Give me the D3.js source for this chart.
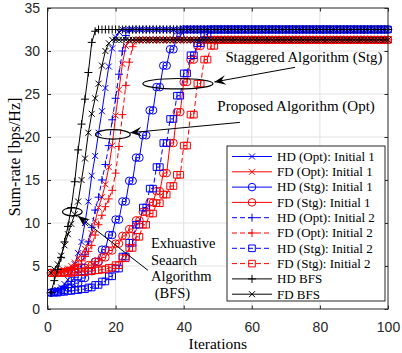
<!DOCTYPE html>
<html lang="en">
<head>
<meta charset="utf-8">
<title>Sum-rate vs iterations</title>
<script src="https://cdn.jsdelivr.net/npm/d3@7"></script>
<style>
  body { margin: 0; background: #fff; }
  svg text { font-family: "Liberation Serif", "Times New Roman", serif; fill: #000; }
  .tick text { font-family: "Liberation Sans", Arial, sans-serif; font-size: 14px; fill: #262626; }
  .tick line { stroke: #262626; }
</style>
</head>
<body>
<script>
// ---- data ----
var xTicks = [0, 20, 40, 60, 80, 100];
var yTicks = [0, 5, 10, 15, 20, 25, 30, 35];

var seriesNames = [
  "HD (Opt): Initial 1", "FD (Opt): Initial 1",
  "HD (Stg): Initial 1", "FD (Stg): Initial 1",
  "HD (Opt): Initial 2", "FD (Opt): Initial 2",
  "HD (Stg): Initial 2", "FD (Stg): Initial 2",
  "HD BFS", "FD BFS"
];

// sum-rate per iteration, iterations 1..100
var hdOpt1 = [
  1.9, 2.0, 2.2, 2.5, 2.9, 3.4, 4.2, 5.2, 6.5, 7.8,
  10.0, 12.5, 15.5, 17.8, 20.5, 23.0, 25.7, 28.2, 30.3, 31.6,
  32.2, 32.5, 32.5, 32.5, 32.5, 32.5, 32.5, 32.5, 32.5, 32.5,
  32.5, 32.5, 32.5, 32.5, 32.5, 32.5, 32.5, 32.5, 32.5, 32.5,
  32.5, 32.5, 32.5, 32.5, 32.5, 32.5, 32.5, 32.5, 32.5, 32.5,
  32.5, 32.5, 32.5, 32.5, 32.5, 32.5, 32.5, 32.5, 32.5, 32.5,
  32.5, 32.5, 32.5, 32.5, 32.5, 32.5, 32.5, 32.5, 32.5, 32.5,
  32.5, 32.5, 32.5, 32.5, 32.5, 32.5, 32.5, 32.5, 32.5, 32.5,
  32.5, 32.5, 32.5, 32.5, 32.5, 32.5, 32.5, 32.5, 32.5, 32.5,
  32.5, 32.5, 32.5, 32.5, 32.5, 32.5, 32.5, 32.5, 32.5, 32.5
];
var fdOpt1 = [
  4.2, 4.2, 4.3, 4.4, 4.5, 4.7, 5.0, 5.4, 5.9, 6.4,
  7.0, 7.7, 8.8, 10.2, 11.8, 13.0, 14.5, 16.5, 19.0, 22.5,
  25.5, 28.5, 30.6, 31.2, 31.3, 31.3, 31.3, 31.3, 31.3, 31.3,
  31.3, 31.3, 31.3, 31.3, 31.3, 31.3, 31.3, 31.3, 31.3, 31.3,
  31.3, 31.3, 31.3, 31.3, 31.3, 31.3, 31.3, 31.3, 31.3, 31.3,
  31.3, 31.3, 31.3, 31.3, 31.3, 31.3, 31.3, 31.3, 31.3, 31.3,
  31.3, 31.3, 31.3, 31.3, 31.3, 31.3, 31.3, 31.3, 31.3, 31.3,
  31.3, 31.3, 31.3, 31.3, 31.3, 31.3, 31.3, 31.3, 31.3, 31.3,
  31.3, 31.3, 31.3, 31.3, 31.3, 31.3, 31.3, 31.3, 31.3, 31.3,
  31.3, 31.3, 31.3, 31.3, 31.3, 31.3, 31.3, 31.3, 31.3, 31.3
];
var hdStg1 = [
  1.9, 2.0, 2.0, 2.2, 2.2, 2.5, 2.5, 3.0, 3.0, 3.6,
  3.6, 4.4, 4.4, 5.5, 5.5, 6.9, 6.9, 8.6, 8.6, 10.4,
  10.4, 12.5, 12.5, 14.9, 14.9, 17.6, 17.6, 20.2, 20.2, 23.1,
  23.1, 25.8, 25.8, 28.3, 28.3, 30.2, 30.2, 31.7, 31.7, 32.5,
  32.5, 32.5, 32.5, 32.5, 32.5, 32.5, 32.5, 32.5, 32.5, 32.5,
  32.5, 32.5, 32.5, 32.5, 32.5, 32.5, 32.5, 32.5, 32.5, 32.5,
  32.5, 32.5, 32.5, 32.5, 32.5, 32.5, 32.5, 32.5, 32.5, 32.5,
  32.5, 32.5, 32.5, 32.5, 32.5, 32.5, 32.5, 32.5, 32.5, 32.5,
  32.5, 32.5, 32.5, 32.5, 32.5, 32.5, 32.5, 32.5, 32.5, 32.5,
  32.5, 32.5, 32.5, 32.5, 32.5, 32.5, 32.5, 32.5, 32.5, 32.5
];
var fdStg1 = [
  4.2, 4.2, 4.2, 4.3, 4.3, 4.4, 4.4, 4.6, 4.6, 4.8,
  4.8, 5.1, 5.1, 5.5, 5.5, 6.0, 6.0, 6.8, 6.8, 7.6,
  7.6, 8.5, 8.5, 9.3, 9.3, 10.3, 10.3, 11.3, 11.3, 12.4,
  12.4, 13.7, 13.7, 15.8, 15.8, 19.3, 19.3, 22.9, 22.9, 26.4,
  26.4, 29.0, 29.0, 30.6, 30.6, 31.3, 31.3, 31.3, 31.3, 31.3,
  31.3, 31.3, 31.3, 31.3, 31.3, 31.3, 31.3, 31.3, 31.3, 31.3,
  31.3, 31.3, 31.3, 31.3, 31.3, 31.3, 31.3, 31.3, 31.3, 31.3,
  31.3, 31.3, 31.3, 31.3, 31.3, 31.3, 31.3, 31.3, 31.3, 31.3,
  31.3, 31.3, 31.3, 31.3, 31.3, 31.3, 31.3, 31.3, 31.3, 31.3,
  31.3, 31.3, 31.3, 31.3, 31.3, 31.3, 31.3, 31.3, 31.3, 31.3
];
var hdOpt2 = [
  1.9, 2.0, 2.1, 2.3, 2.5, 2.8, 3.2, 3.7, 4.3, 5.2,
  6.3, 7.8, 9.5, 11.5, 13.0, 15.0, 16.8, 19.0, 22.0, 24.5,
  27.3, 30.0, 31.8, 32.4, 32.5, 32.5, 32.5, 32.5, 32.5, 32.5,
  32.5, 32.5, 32.5, 32.5, 32.5, 32.5, 32.5, 32.5, 32.5, 32.5,
  32.5, 32.5, 32.5, 32.5, 32.5, 32.5, 32.5, 32.5, 32.5, 32.5,
  32.5, 32.5, 32.5, 32.5, 32.5, 32.5, 32.5, 32.5, 32.5, 32.5,
  32.5, 32.5, 32.5, 32.5, 32.5, 32.5, 32.5, 32.5, 32.5, 32.5,
  32.5, 32.5, 32.5, 32.5, 32.5, 32.5, 32.5, 32.5, 32.5, 32.5,
  32.5, 32.5, 32.5, 32.5, 32.5, 32.5, 32.5, 32.5, 32.5, 32.5,
  32.5, 32.5, 32.5, 32.5, 32.5, 32.5, 32.5, 32.5, 32.5, 32.5
];
var fdOpt2 = [
  4.2, 4.2, 4.2, 4.3, 4.4, 4.5, 4.7, 4.9, 5.2, 5.6,
  6.1, 6.7, 7.4, 8.6, 9.8, 10.9, 11.9, 12.8, 13.8, 15.8,
  18.9, 22.6, 26.0, 28.7, 30.5, 31.2, 31.3, 31.3, 31.3, 31.3,
  31.3, 31.3, 31.3, 31.3, 31.3, 31.3, 31.3, 31.3, 31.3, 31.3,
  31.3, 31.3, 31.3, 31.3, 31.3, 31.3, 31.3, 31.3, 31.3, 31.3,
  31.3, 31.3, 31.3, 31.3, 31.3, 31.3, 31.3, 31.3, 31.3, 31.3,
  31.3, 31.3, 31.3, 31.3, 31.3, 31.3, 31.3, 31.3, 31.3, 31.3,
  31.3, 31.3, 31.3, 31.3, 31.3, 31.3, 31.3, 31.3, 31.3, 31.3,
  31.3, 31.3, 31.3, 31.3, 31.3, 31.3, 31.3, 31.3, 31.3, 31.3,
  31.3, 31.3, 31.3, 31.3, 31.3, 31.3, 31.3, 31.3, 31.3, 31.3
];
var hdStg2 = [
  1.9, 1.9, 1.9, 2.0, 2.0, 2.1, 2.1, 2.2, 2.2, 2.3,
  2.3, 2.5, 2.5, 2.8, 2.8, 3.2, 3.2, 3.8, 3.8, 4.7,
  4.7, 6.1, 6.1, 7.7, 7.7, 9.8, 9.8, 11.8, 11.8, 14.0,
  14.0, 16.5, 16.5, 19.3, 19.3, 22.1, 22.1, 24.8, 24.8, 27.4,
  27.4, 29.5, 29.5, 30.9, 30.9, 31.9, 31.9, 32.5, 32.5, 32.5,
  32.5, 32.5, 32.5, 32.5, 32.5, 32.5, 32.5, 32.5, 32.5, 32.5,
  32.5, 32.5, 32.5, 32.5, 32.5, 32.5, 32.5, 32.5, 32.5, 32.5,
  32.5, 32.5, 32.5, 32.5, 32.5, 32.5, 32.5, 32.5, 32.5, 32.5,
  32.5, 32.5, 32.5, 32.5, 32.5, 32.5, 32.5, 32.5, 32.5, 32.5,
  32.5, 32.5, 32.5, 32.5, 32.5, 32.5, 32.5, 32.5, 32.5, 32.5
];
var fdStg2 = [
  4.2, 4.2, 4.2, 4.2, 4.2, 4.2, 4.2, 4.3, 4.3, 4.3,
  4.3, 4.4, 4.4, 4.5, 4.5, 4.6, 4.6, 4.8, 4.8, 5.1,
  5.1, 5.9, 5.9, 7.1, 7.1, 8.4, 8.4, 9.8, 9.8, 11.1,
  11.1, 12.3, 12.3, 13.3, 13.3, 14.3, 14.3, 15.6, 15.6, 19.0,
  19.0, 22.6, 22.6, 26.2, 26.2, 29.0, 29.0, 30.6, 30.6, 31.3,
  31.3, 31.3, 31.3, 31.3, 31.3, 31.3, 31.3, 31.3, 31.3, 31.3,
  31.3, 31.3, 31.3, 31.3, 31.3, 31.3, 31.3, 31.3, 31.3, 31.3,
  31.3, 31.3, 31.3, 31.3, 31.3, 31.3, 31.3, 31.3, 31.3, 31.3,
  31.3, 31.3, 31.3, 31.3, 31.3, 31.3, 31.3, 31.3, 31.3, 31.3,
  31.3, 31.3, 31.3, 31.3, 31.3, 31.3, 31.3, 31.3, 31.3, 31.3
];
var hdBfs = [
  1.9, 3.3, 4.6, 6.0, 7.8, 9.6, 11.8, 14.8, 18.5, 21.5,
  24.4, 27.5, 31.0, 32.3, 32.5, 32.5, 32.5, 32.5, 32.5, 32.5,
  32.5, 32.5, 32.5, 32.5, 32.5, 32.5, 32.5, 32.5, 32.5, 32.5,
  32.5, 32.5, 32.5, 32.5, 32.5, 32.5, 32.5, 32.5, 32.5, 32.5,
  32.5, 32.5, 32.5, 32.5, 32.5, 32.5, 32.5, 32.5, 32.5, 32.5,
  32.5, 32.5, 32.5, 32.5, 32.5, 32.5, 32.5, 32.5, 32.5, 32.5,
  32.5, 32.5, 32.5, 32.5, 32.5, 32.5, 32.5, 32.5, 32.5, 32.5,
  32.5, 32.5, 32.5, 32.5, 32.5, 32.5, 32.5, 32.5, 32.5, 32.5,
  32.5, 32.5, 32.5, 32.5, 32.5, 32.5, 32.5, 32.5, 32.5, 32.5,
  32.5, 32.5, 32.5, 32.5, 32.5, 32.5, 32.5, 32.5, 32.5, 32.5
];
var fdBfs = [
  4.2, 4.6, 5.2, 6.2, 7.4, 8.7, 9.9, 11.0, 12.5, 15.0,
  17.5, 20.5, 22.7, 24.5, 26.2, 28.3, 30.0, 30.9, 31.3, 31.3,
  31.3, 31.3, 31.3, 31.3, 31.3, 31.3, 31.3, 31.3, 31.3, 31.3,
  31.3, 31.3, 31.3, 31.3, 31.3, 31.3, 31.3, 31.3, 31.3, 31.3,
  31.3, 31.3, 31.3, 31.3, 31.3, 31.3, 31.3, 31.3, 31.3, 31.3,
  31.3, 31.3, 31.3, 31.3, 31.3, 31.3, 31.3, 31.3, 31.3, 31.3,
  31.3, 31.3, 31.3, 31.3, 31.3, 31.3, 31.3, 31.3, 31.3, 31.3,
  31.3, 31.3, 31.3, 31.3, 31.3, 31.3, 31.3, 31.3, 31.3, 31.3,
  31.3, 31.3, 31.3, 31.3, 31.3, 31.3, 31.3, 31.3, 31.3, 31.3,
  31.3, 31.3, 31.3, 31.3, 31.3, 31.3, 31.3, 31.3, 31.3, 31.3
];

var seriesValues = [hdOpt1, fdOpt1, hdStg1, fdStg1, hdOpt2, fdOpt2, hdStg2, fdStg2, hdBfs, fdBfs];

// look of each series (MATLAB style)
var styles = [
  { color: "#0000ff", marker: "x", dash: null },
  { color: "#ff0000", marker: "x", dash: null },
  { color: "#0000ff", marker: "o", dash: null },
  { color: "#ff0000", marker: "o", dash: null },
  { color: "#0000ff", marker: "+", dash: "5,3" },
  { color: "#ff0000", marker: "+", dash: "5,3" },
  { color: "#0000ff", marker: "s", dash: "5,3" },
  { color: "#ff0000", marker: "s", dash: "5,3" },
  { color: "#000000", marker: "+", dash: null },
  { color: "#000000", marker: "x", dash: null }
];

var W = 402, H = 353;
var svg = d3.select("body").append("svg")
  .attr("width", W)
  .attr("height", H);

var x = d3.scaleLinear().domain([0, 100]).range([47.5, 388]);
var y = d3.scaleLinear().domain([0, 35]).range([309, 8]);

// grid
var grid = svg.append("g").attr("stroke", "#e2e2e2").attr("stroke-width", 1);
grid.selectAll(".gx").data(xTicks.slice(1, -1)).enter().append("line")
  .attr("x1", d => x(d)).attr("x2", d => x(d))
  .attr("y1", y(0)).attr("y2", y(35));
grid.selectAll(".gy").data(yTicks.slice(1, -1)).enter().append("line")
  .attr("x1", x(0)).attr("x2", x(100))
  .attr("y1", d => y(d)).attr("y2", d => y(d));

// marker shapes
function markerPath(type, cx, cy) {
  if (type === "x") {
    var s = 3;
    return "M" + (cx - s) + "," + (cy - s) + "L" + (cx + s) + "," + (cy + s) +
           "M" + (cx - s) + "," + (cy + s) + "L" + (cx + s) + "," + (cy - s);
  }
  if (type === "+") {
    var p = 4;
    return "M" + (cx - p) + "," + cy + "L" + (cx + p) + "," + cy +
           "M" + cx + "," + (cy - p) + "L" + cx + "," + (cy + p);
  }
  if (type === "s") {
    var h = 3.3;
    return "M" + (cx - h) + "," + (cy - h) + "h" + (2 * h) + "v" + (2 * h) + "h" + (-2 * h) + "Z";
  }
  var r = 3.8;  // circle
  return "M" + (cx - r) + "," + cy + "a" + r + "," + r + " 0 1,0 " + (2 * r) + ",0" +
         "a" + r + "," + r + " 0 1,0 " + (-2 * r) + ",0Z";
}

var line = d3.line()
  .x((d, i) => x(i + 1))
  .y(d => y(d));

var plot = svg.append("g");
seriesValues.forEach(function (vals, k) {
  var st = styles[k];
  var g = plot.append("g");
  g.append("path")
    .attr("d", line(vals))
    .attr("fill", "none")
    .attr("stroke", st.color)
    .attr("stroke-width", 1)
    .attr("stroke-dasharray", st.dash);
  g.selectAll("path.m").data(vals).enter().append("path")
    .attr("class", "m")
    .attr("d", (d, i) => markerPath(st.marker, x(i + 1), y(d)))
    .attr("fill", "none")
    .attr("stroke", st.color)
    .attr("stroke-width", 1);
});

// axes box + inward ticks
svg.append("rect")
  .attr("x", x(0)).attr("y", y(35))
  .attr("width", x(100) - x(0)).attr("height", y(0) - y(35))
  .attr("fill", "none").attr("stroke", "#262626").attr("stroke-width", 1);

var gx = svg.append("g").attr("transform", "translate(0," + y(0) + ")")
  .call(d3.axisBottom(x).tickValues(xTicks).tickSizeInner(-3.5).tickSizeOuter(0).tickPadding(13));
var gxt = svg.append("g").attr("transform", "translate(0," + y(35) + ")")
  .call(d3.axisTop(x).tickValues(xTicks).tickSizeInner(-3.5).tickSizeOuter(0).tickFormat(""));
var gy = svg.append("g").attr("transform", "translate(" + x(0) + ",0)")
  .call(d3.axisLeft(y).tickValues(yTicks).tickSizeInner(-3.5).tickSizeOuter(0).tickPadding(7.5));
var gyr = svg.append("g").attr("transform", "translate(" + x(100) + ",0)")
  .call(d3.axisRight(y).tickValues(yTicks).tickSizeInner(-3.5).tickSizeOuter(0).tickFormat(""));
[gx, gxt, gy, gyr].forEach(g => g.select(".domain").remove());

// axis labels
svg.append("text")
  .attr("x", (x(0) + x(100)) / 2).attr("y", 349)
  .attr("text-anchor", "middle").attr("font-size", 15.5)
  .text("Iterations");
svg.append("text")
  .attr("transform", "translate(20,157) rotate(-90)")
  .attr("text-anchor", "middle").attr("font-size", 16)
  .text("Sum-rate [bps/Hz]");

// annotations: ellipses, arrows, text
function arrow(x1, y1, x2, y2) {
  svg.append("line")
    .attr("x1", x1).attr("y1", y1).attr("x2", x2).attr("y2", y2)
    .attr("stroke", "#000").attr("stroke-width", 1);
  var a = Math.atan2(y2 - y1, x2 - x1);
  var L = 11.5, Wd = 4.8, N = 7;
  var pts = [[0, 0], [-L, -Wd], [-N, 0], [-L, Wd]].map(function (p) {
    return [x2 + p[0] * Math.cos(a) - p[1] * Math.sin(a),
            y2 + p[0] * Math.sin(a) + p[1] * Math.cos(a)];
  });
  svg.append("path").attr("d", "M" + pts.join("L") + "Z").attr("fill", "#000");
}
function ellipse(cx, cy, rx, ry) {
  svg.append("ellipse")
    .attr("cx", x(cx)).attr("cy", y(cy))
    .attr("rx", x(cx + rx) - x(cx)).attr("ry", y(cy) - y(cy + ry))
    .attr("fill", "none").attr("stroke", "#000").attr("stroke-width", 1.2);
}

ellipse(38.3, 26.2, 10.3, 0.6);
arrow(x(72.7), y(28.1), x(49.0), y(26.4));
svg.append("text").attr("x", x(75.3)).attr("y", y(28.7))
  .attr("text-anchor", "middle").attr("font-size", 14.8)
  .text("Staggered Algorithm (Stg)");

ellipse(19.2, 20.3, 5.1, 0.55);
arrow(x(56.5), y(21.7), x(24.3), y(20.5));
svg.append("text").attr("x", x(73.0)).attr("y", y(23.0))
  .attr("text-anchor", "middle").attr("font-size", 15)
  .text("Proposed Algorithm (Opt)");

ellipse(7.3, 11.3, 2.9, 0.47);
arrow(x(29.5), y(4.5), x(9.0), y(10.8));
var bfsLines = ["Exhuastive", "Seaarch", "Algorithm", " (BFS)"];
svg.append("g").selectAll("text").data(bfsLines).enter().append("text")
  .attr("x", x(30.4))
  .attr("y", (d, i) => 248 + i * 16.5)
  .attr("font-size", 14.5)
  .attr("xml:space", "preserve")
  .style("white-space", "pre")
  .text(d => d);

// legend
var lg = svg.append("g").attr("transform", "translate(227,146)");
lg.append("rect")
  .attr("width", 158).attr("height", 155)
  .attr("fill", "#fff").attr("stroke", "#262626").attr("stroke-width", 1);
seriesNames.forEach(function (name, k) {
  var st = styles[k];
  var yy = 10.5 + k * 15.3;
  lg.append("line")
    .attr("x1", 5).attr("x2", 45).attr("y1", yy).attr("y2", yy)
    .attr("stroke", st.color).attr("stroke-width", 1)
    .attr("stroke-dasharray", st.dash);
  lg.append("path")
    .attr("d", markerPath(st.marker, 25, yy))
    .attr("fill", "none").attr("stroke", st.color).attr("stroke-width", 1);
  lg.append("text")
    .attr("x", 50).attr("y", yy + 4.3)
    .attr("font-size", 13)
    .text(name);
});
</script>
</body>
</html>
